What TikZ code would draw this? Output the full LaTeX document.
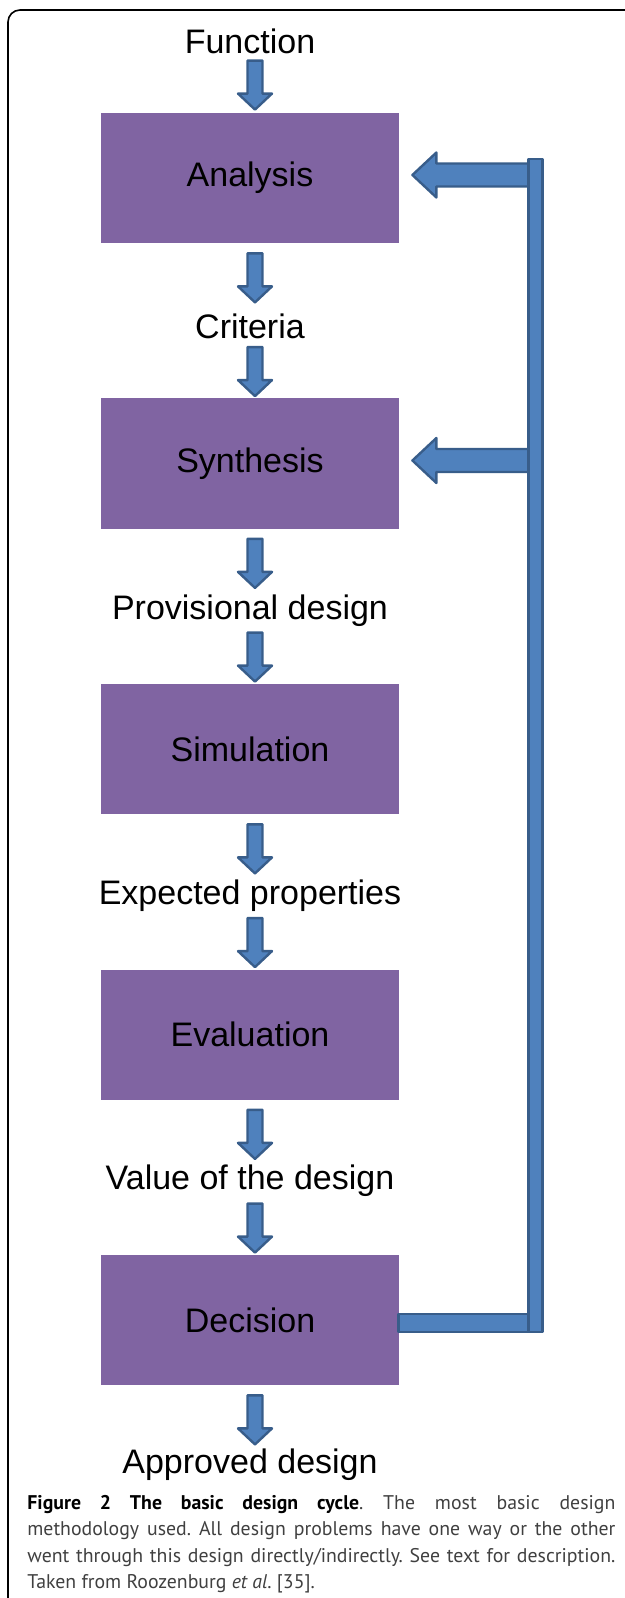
\documentclass[tikz,border=0pt]{standalone}
\usepackage{fontspec}
\setmainfont{Liberation Sans}
\newfontfamily\capfont{PT Sans}
\usetikzlibrary{positioning, calc}
\definecolor{stagepurple}{RGB}{128,100,162}
\definecolor{flowblue}{RGB}{79,129,189}
\definecolor{flowedge}{RGB}{56,93,138}

\tikzset{
  stage/.style={fill=stagepurple, minimum width=149pt, minimum height=65pt, inner sep=0pt,
                font=\fontsize{17}{20}\selectfont},
  outcome/.style={inner sep=0pt, font=\fontsize{17}{20}\selectfont},
  flow/.style={fill=flowblue, draw=flowedge, line width=1.2pt, line join=round},
  downflow/.pic={
    \draw[flow] (-7.5,0) -- (7.5,0) -- (7.5,33) -- (17,33) -- (0,49) -- (-17,33) -- (-7.5,33) -- cycle;
  }
}

\begin{document}
\begin{tikzpicture}[x=0.5pt, y=-0.5pt]
    \clip (0,0) rectangle (625,1598);
    % outer frame
    \draw[line width=0.8pt, rounded corners=6pt] (8,10) rectangle (680,1660);

    % design stages
    \node[stage] (analysis)   at (250,178)    {Analysis};
    \node[stage] (synthesis)  at (250,463.5)  {Synthesis};
    \node[stage] (simulation) at (250,749)    {Simulation};
    \node[stage] (evaluation) at (250,1034.5) {Evaluation};
    \node[stage] (decision)   at (250,1320)   {Decision};

    % what goes in and out
    \node[outcome] (function)    at (250,41)   {Function};
    \node[outcome] (criteria)    at (250,326)  {Criteria};
    \node[outcome] (provisional) at (250,611)  {Provisional design};
    \node[outcome] (expected)    at (250,896)  {Expected properties};
    \node[outcome] (value)       at (250,1181) {Value of the design};
    \node[outcome] (approved)    at (250,1465) {Approved design};

    % flow down
    \pic at ($(analysis.north)+(5,-52)$)   {downflow};
    \pic at ($(analysis.south)+(5,10)$)    {downflow};
    \pic at ($(synthesis.north)+(5,-51)$)  {downflow};
    \pic at ($(synthesis.south)+(5,10)$)   {downflow};
    \pic at ($(simulation.north)+(5,-51)$) {downflow};
    \pic at ($(simulation.south)+(5,10)$)  {downflow};
    \pic at ($(evaluation.north)+(5,-51)$) {downflow};
    \pic at ($(evaluation.south)+(5,10)$)  {downflow};
    \pic at ($(decision.north)+(5,-51)$)   {downflow};
    \pic at ($(decision.south)+(5,10)$)    {downflow};

    % feedback loop
    \draw[flow] ($(analysis.east)+(13,-3)$) -- ++(24,-22.5) -- ++(0,11) -- ++(92,0)
        -- ++(0,23) -- ++(-92,0) -- ++(0,11) -- cycle;
    \draw[flow] ($(synthesis.east)+(13,-3)$) -- ++(24,-22.5) -- ++(0,11) -- ++(92,0)
        -- ++(0,23) -- ++(-92,0) -- ++(0,11) -- cycle;
    \draw[flow] ($(decision.east)+(-1,-6)$) rectangle ++(130,18);
    \draw[flow] ($(analysis.east)+(129,-19)$) rectangle ($(decision.east)+(143,12)$);

    % caption
    \node[anchor=north west, text width=294pt, align=justify, inner sep=0pt,
          text=black!75] (caption) at (27,1495) {%
        \capfont\fontsize{9.9}{13.2}\selectfont\frenchspacing
        {\color{black}\textbf{Figure 2 The basic design cycle}}. The most basic design\linebreak
        methodology used. All design problems have one way or the other\linebreak
        went through this design directly/indirectly. See text for description.\linebreak
        Taken from Roozenburg \textit{et al}. [35].\par};
\end{tikzpicture}
\end{document}
